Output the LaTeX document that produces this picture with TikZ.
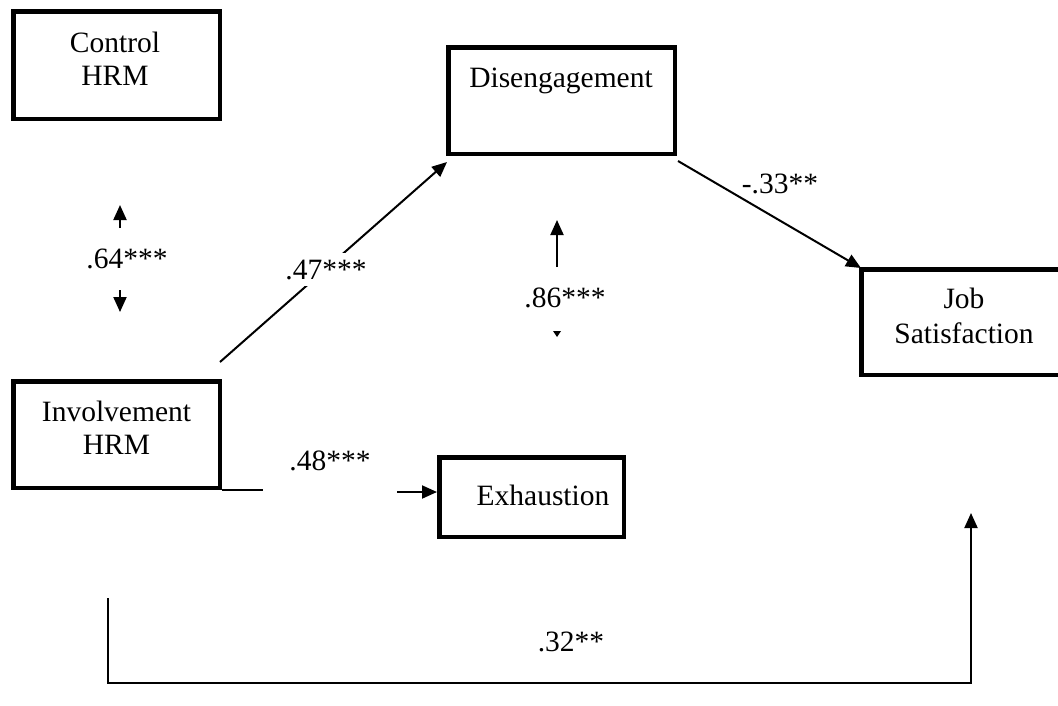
\documentclass[tikz,border=0pt]{standalone}
\usepackage{fontspec}
\setmainfont{Liberation Serif}
\usetikzlibrary{arrows.meta}
\begin{document}
\begin{tikzpicture}[x=1pt,y=-1pt,
  box/.style={draw,line width=4.5pt,rectangle,inner sep=0pt},
  txt/.style={anchor=base,inner sep=0pt,font=\fontsize{29.5}{33}\selectfont},
  coef/.style={txt,fill=white,inner sep=7pt},
  conn/.style={line width=2pt},
  arr/.style={line width=2pt,-{Triangle[length=15pt,width=13pt]}}]
\useasboundingbox (0,0) rectangle (1058,705);
% boxes (outer edges minus half line width)
\node[box,minimum width=206.5pt,minimum height=107.5pt] (ctrl) at (116.5,65) {};
\node[box,minimum width=226.5pt,minimum height=106.5pt] (dis) at (561.5,100.5) {};
\node[box,minimum width=206.5pt,minimum height=105.5pt] (job) at (964.5,322) {};
\node[box,minimum width=206.5pt,minimum height=106.5pt] (inv) at (116.5,434.5) {};
\node[box,minimum width=184.5pt,minimum height=79.5pt] (exh) at (531.5,497) {};
% box texts
\node[txt] (t1) at (115,52) {Control};
\node[txt] (t2) at (115,85) {HRM};
\node[txt] (t3) at (561,87) {Disengagement};
\node[txt] (t4) at (964,308) {Job};
\node[txt] (t5) at (964,343) {Satisfaction};
\node[txt] (t6) at (116.5,421) {Involvement};
\node[txt] (t7) at (116.5,454) {HRM};
\node[txt] (t8) at (543,505) {Exhaustion};
% connector end points
\coordinate (a1) at (120,228); \coordinate (a2) at (120,205);
\coordinate (b1) at (120,290); \coordinate (b2) at (120,312);
\coordinate (c1) at (220,362); \coordinate (c2) at (447,162);
\coordinate (d1) at (678,161); \coordinate (d2) at (861,268);
\coordinate (e1) at (557,267); \coordinate (e2) at (557,220);
\coordinate (f1) at (222,490); \coordinate (f2) at (263,490);
\coordinate (g1) at (397,492); \coordinate (g2) at (437,492);
\coordinate (h1) at (108,598); \coordinate (h2) at (108,683);
\coordinate (h3) at (971,683); \coordinate (h4) at (971,513);
% connectors
\draw[arr] (a1) -- (a2);
\draw[arr] (b1) -- (b2);
\draw[arr] (c1) -- (c2);
\draw[arr] (d1) -- (d2);
\draw[arr] (e1) -- (e2);
\draw[conn] (f1) -- (f2);
\draw[arr] (g1) -- (g2);
\draw[arr] (h1) -- (h2) -- (h3) -- (h4);
\fill (553,331) -- (561,331) -- (557,337) -- cycle;
% coefficient labels (white boxes cover the lines beneath)
\node[txt] (l64) at (127,268) {.64***};
\node[coef] (l47) at (326,279) {.47***};
\node[txt] (l86) at (565,307) {.86***};
\node[txt] (l33) at (780,193) {-.33**};
\node[txt] (l48) at (330,470) {.48***};
\node[txt] (l32) at (571,651) {.32**};
\end{tikzpicture}
\end{document}
